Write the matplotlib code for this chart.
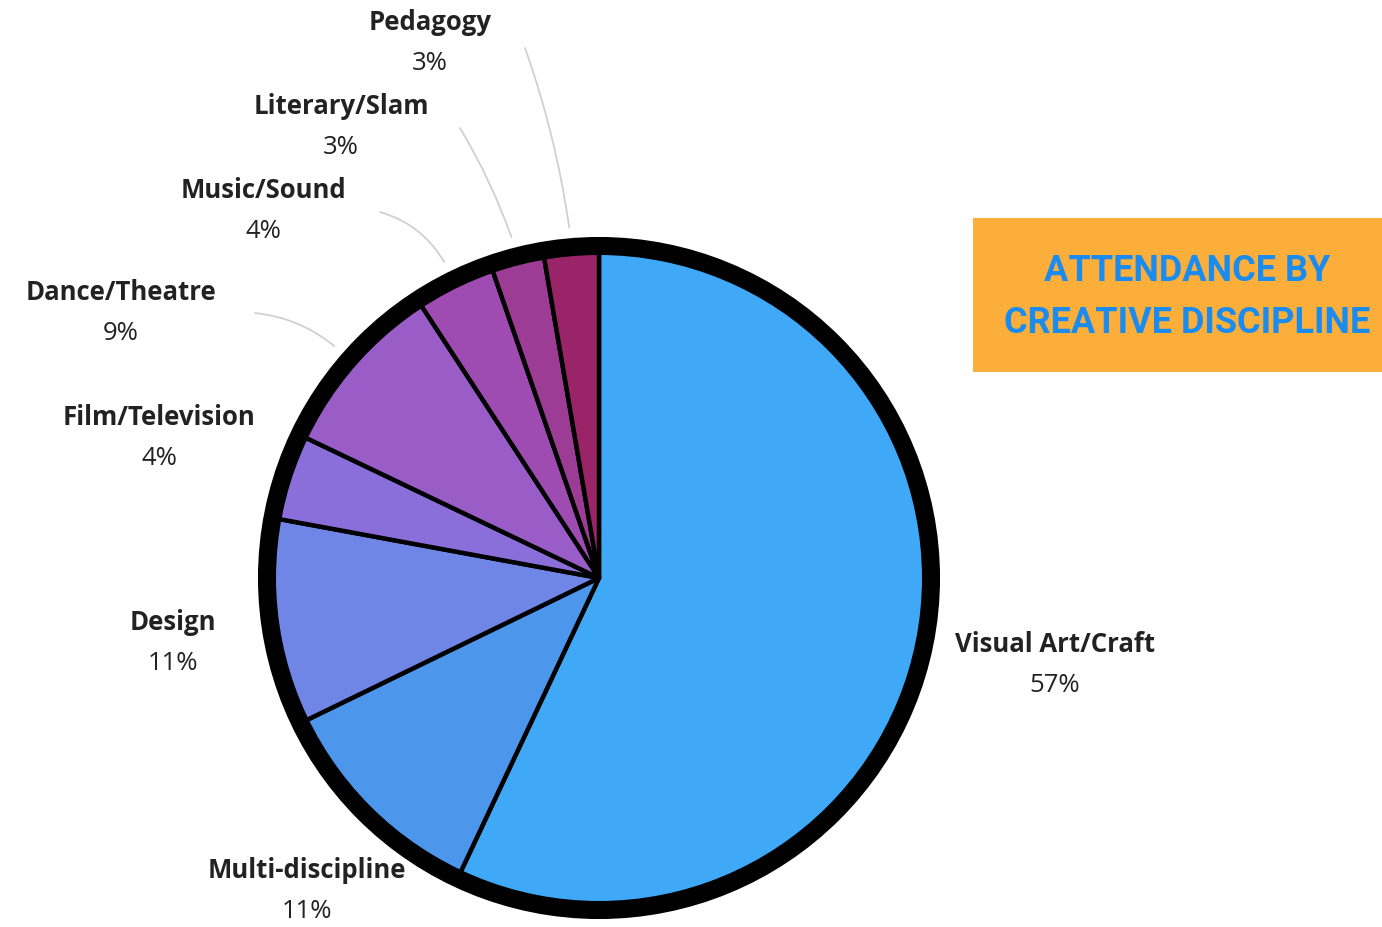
import matplotlib
matplotlib.use("Agg")
import matplotlib.pyplot as plt
import numpy as np
from matplotlib.patches import Circle, Rectangle

# ---- data ----
categories = ["Visual Art/Craft", "Multi-discipline", "Design", "Film/Television",
              "Dance/Theatre", "Music/Sound", "Literary/Slam", "Pedagogy"]
shares = [57.0, 10.8, 10.1, 4.2, 8.7, 3.9, 2.6, 2.7]
pct_labels = ["57%", "11%", "11%", "4%", "9%", "4%", "3%", "3%"]
colors = ["#3FA9F8", "#4C96EC", "#6F86E6", "#8A6FDB", "#9A5DC8", "#9F4CB2", "#9C3C94", "#9A2468"]
title_lines = ["ATTENDANCE BY", "CREATIVE DISCIPLINE"]

# label anchor positions (pixel space, y from top)
label_pos = {
    "Visual Art/Craft": (1055, 644),
    "Multi-discipline": (307, 871),
    "Design": (173, 622),
    "Film/Television": (159, 417),
    "Dance/Theatre": (121, 292),
    "Music/Sound": (263, 190),
    "Literary/Slam": (341, 106),
    "Pedagogy": (430, 22),
}
leader_start = {
    "Dance/Theatre": (255, 313),
    "Music/Sound": (380, 212),
    "Literary/Slam": (460, 128),
    "Pedagogy": (525, 48),
}
leader_rad = {"Dance/Theatre": -0.15, "Music/Sound": -0.2,
              "Literary/Slam": -0.05, "Pedagogy": -0.05}

W, H = 1382, 927
fig = plt.figure(figsize=(W / 100, H / 100), dpi=100)
fig.patch.set_facecolor("white")
ax = fig.add_axes([0, 0, 1, 1])

cx, cy = 599, H - 578
r_fill = 330

wedges, _ = ax.pie(shares, colors=colors, startangle=90, counterclock=False,
                   center=(cx, cy), radius=r_fill, frame=True,
                   wedgeprops=dict(edgecolor="black", linewidth=3.2, antialiased=True,
                                   joinstyle="round"))
ax.set_xlim(0, W)
ax.set_ylim(0, H)
ax.set_aspect("equal")
ax.axis("off")

ring = Circle((cx, cy), 332, facecolor="none", edgecolor="black", linewidth=13.0, zorder=5)
ax.add_patch(ring)

txt_color = "#222222"
for name, pct in zip(categories, pct_labels):
    x, y = label_pos[name]
    ax.text(x, H - y, name, ha="center", va="center", fontsize=18.5,
            fontweight="bold", color=txt_color, family="Open Sans")
    ax.text(x, H - y - 41, pct, ha="center", va="center", fontsize=18.5,
            color=txt_color, family="Open Sans")

# leader lines
for w, name in zip(wedges, categories):
    if name not in leader_start:
        continue
    mid = np.deg2rad((w.theta1 + w.theta2) / 2)
    ex, ey = cx + 352 * np.cos(mid), cy + 352 * np.sin(mid)
    sx, sy = leader_start[name]
    ax.annotate("", xy=(ex, ey), xytext=(sx, H - sy),
                arrowprops=dict(arrowstyle="-", color="#D0D0D0", lw=1.3,
                                connectionstyle=f"arc3,rad={leader_rad[name]}",
                                shrinkA=0, shrinkB=0))

# title box
ax.add_patch(Rectangle((973, H - 372), W - 973, 372 - 218, facecolor="#FBAF3A",
                       edgecolor="none", zorder=3))
fam = ["Roboto", "DejaVu Sans"]
ax.text(1187, H - 271, title_lines[0], ha="center", va="center", fontsize=26,
        fontweight="bold", color="#1A8CF0", family=fam, zorder=4)
ax.text(1187, H - 323, title_lines[1], ha="center", va="center", fontsize=26,
        fontweight="bold", color="#1A8CF0", family=fam, zorder=4)

fig.savefig("out.png", dpi=100, facecolor="white")
